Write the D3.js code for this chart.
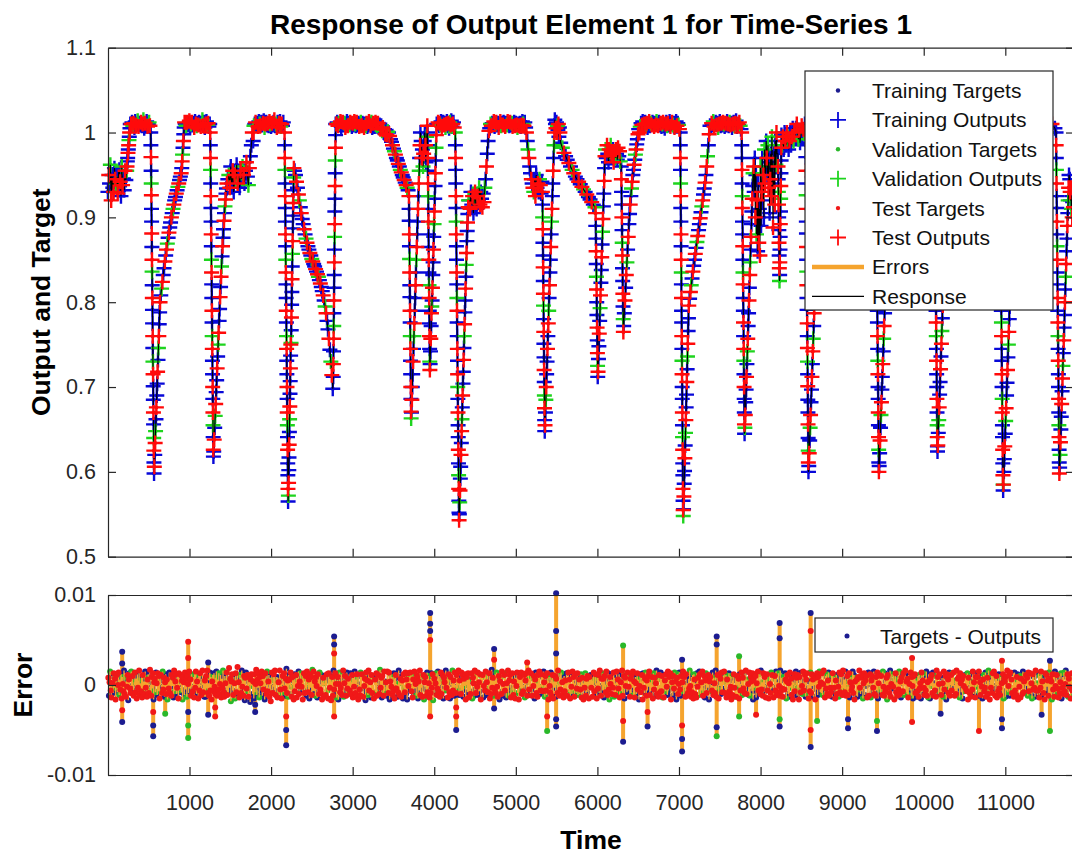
<!DOCTYPE html>
<html>
<head>
<meta charset="utf-8">
<script src="https://cdn.jsdelivr.net/npm/d3@7"></script>
<style>
  body { margin: 0; background: #fff; overflow: hidden; }
  svg { display: block; font-family: "Liberation Sans", Arial, Helvetica, sans-serif; }
</style>
</head>
<body>
<div id="wrapper"></div>
<script>
// ---- data ----

// time series runs: start time, time step, target values (in thousandths)
const runT0 = [0, 230, 285, 525, 569, 648, 905, 948, 1254, 1297, 1470, 1780, 1800, 2165, 2212, 2288,
  2762, 2800, 3440, 3690, 3721, 3840, 3918, 3950, 4038, 4258, 4308, 4430, 4680, 5130, 5326, 5358,
  5486, 5550, 5978, 6008, 6100, 6292, 6322, 6515, 7015, 7056, 7130, 7390, 7768, 7808, 7915, 8212,
  8264, 8552, 8591, 8750, 9410, 9454, 9610, 10130, 10173, 10320, 10930, 10977, 11140, 11622, 11666, 11790];
const runDt = [10, 4, 10, 1.5, 5, 10, 5, 10, 1.5, 6, 12, 5, 10, 1.5, 2.5, 11.7,
  1.5, 10, 12, 1.5, 5, 7.5, 1.5, 4, 9, 1.5, 4, 10, 10, 10, 1.5, 5,
  6, 20, 2, 5, 9, 2, 8, 10, 1.2, 4, 10, 10, 1.5, 5, 7, 2,
  10, 1.3, 5.5, 36, 1.5, 5.5, 36, 1.5, 5.5, 37, 1.5, 5.5, 36, 1.5, 5, 5];
const runY = [
  [930,950,940,962,920,950,935,930,958,945,940,948,928,952,956,942,925,960,938,946,932,955,944],
  [955,960,966,970,976,980,985,991,995,1000,1005,1010],
  [1010,1012,1008,1011,1006,1013,1009,1010,1014,1007,1011,1009,1012,1008,1010,1015,1005,1011,1009,1013,1007,1010,1012,1008],
  [1000,985,971,955,940,926,910,895,881,865,850,836,820,805,791,775,760,746,730,715,701,685,670,656,640,625,611,598],
  [606,620,634,648,662,676,690,704,718,732,746,760,774,788,800],
  [808,816,824,832,840,848,855,862,869,876,882,888,894,900,905,910,915,920,924,928,932,936,940,944,948,952],
  [958,966,974,982,990,998,1006,1012],
  [1010,1008,1012,1009,1011,1014,1007,1010,1012,1009,1011,1006,1013,1010,1008,1011,1009,1012,1010,1007,1011,1015,1008,1012,1006,1010,1013,1009,1011,1007,1010],
  [1000,985,970,956,940,925,911,895,880,866,850,835,821,805,790,776,760,745,731,715,700,686,670,655,641,626,618],
  [624,638,652,666,680,694,708,722,736,750,764,778,792,806,818,830,842,854,866,876,886,896,905,913,921,928,934,940],
  [945,950,935,960,940,955,930,950,945,962,940,950,935,955,945,960,950,940,955,965,948,938,958,972,985,1000],
  [990,1000,1008],
  [1010,1012,1009,1011,1007,1013,1010,1008,1012,1009,1011,1014,1006,1010,1012,1009,1011,1008,1013,1010,1007,1011,1009,1012,1015,1008,1010,1006,1012,1009,1011,1013,1007,1010,1008,1012],
  [1000,985,970,956,940,925,911,895,880,866,850,835,821,805,790,776,760,745,731,715,700,686,670,655,641,626,610,596,580,565],
  [572,587,602,617,632,647,662,677,692,707,722,737,750,752,767,782,797,812,827,842,857,872,887,902,917,932,947,958],
  [955,950,942,935,927,920,912,905,898,892,886,880,875,870,866,862,858,855,851,848,845,842,839,836,833,830,826,822,818,813,808,802,795,787,778,768,757,744,730,714,698],
  [712,727,742,757,772,787,802,817,832,847,862,877,892,907,922,937,952,967,982,997,1010],
  [1010,1012,1008,1011,1009,1013,1007,1010,1012,1009,1011,1006,1010,1013,1008,1011,1009,1012,1010,1007,1011,1009,1013,1010,1008,1012,1009,1011,1007,1010,1012,1008,
   1011,1009,1006,1010,1008,1011,1007,1009,1013,1010,1008,1012,1006,1011,1009,1007,1012,1010,1008,1011,1006,1009,1004,1008,1002,1006,1000,1004,998,1003,997,1001],
  [1000,996,992,989,985,981,978,974,970,967,963,960,956,953,950,947,944,941,938,935,932],
  [925,910,896,880,866,851,835,820,806,790,776,760,745,731,715,700,686,671,663],
  [670,685,700,715,730,745,760,775,790,805,820,835,850,865,880,895,910,925,940,955,970,985,1000],
  [990,970,980,960,975,990,1000,985,965,995,1008],
  [1000,985,970,955,940,925,910,895,880,865,850,835,820,805,790,775,760,745,730,720],
  [727,742,757,772,787,795,802,817,832,847,862,877,892,907,922,937,952,967,982,997,1010],
  [1010,1012,1008,1011,1009,1013,1007,1010,1012,1009,1011,1006,1010,1013,1008,1011,1005,1012,1009,1014,1007,1010,1012,1006],
  [1000,985,970,956,940,925,911,895,880,866,850,835,821,805,790,776,760,745,731,715,700,686,670,655,641,626,610,596,580,566,552,543],
  [550,564,578,592,606,620,634,648,662,676,690,704,718,732,746,760,774,788,802,816,830,844,858,872,884,894,904,912,920],
  [920,910,930,915,925,905,920,930,915,910,925,920,935,915,930,922,912,928,918,935,945,960,975,990,1002],
  [1005,1010,1008,1011,1009,1013,1007,1010,1012,1009,1011,1006,1010,1013,1008,1011,1009,1012,1010,1007,1011,1009,1013,1010,1008,1012,1009,1011,1007,1010,1012,1008,
   1011,1009,1006,1010,1008,1011,1007,1009,1013,1010,1008,1012,1006],
  [1000,990,980,970,960,952,945,940,935,930,945,925,950,935,940,930,945,938,928,942],
  [930,915,900,886,870,855,841,825,810,796,780,765,751,735,720,706,690,675,661,648],
  [655,670,685,700,715,730,745,760,775,790,805,820,835,850,865,880,895,910,925,940,955,970,985,1000,1015],
  [1010,1005,1012,1000,1008,1003,1010,995,1006,1000],
  [988,982,976,972,968,964,960,956,952,948,945,942,939,936,933,930,927,924,921,918,915,912],
  [905,890,875,860,845,830,815,800,785,770,755,740,725,712],
  [718,733,748,763,778,793,808,823,838,853,868,883,898,913,928,943,958,972],
  [980,970,985,975,965,980,970,985,975,970,980,965,975,970,980,975,968,982,972,978,966],
  [960,945,930,915,900,885,870,855,840,825,810,795,780,765],
  [772,787,802,817,832,847,862,877,892,904,915,925,934,942,950,956,962,968,974,980,986,992,998,1004],
  [1000,1007,1011,1009,1013,1008,1010,1012,1009,1011,1006,1010,1013,1008,1011,1009,1012,1010,1007,1011,1009,1013,1010,1008,1012,1009,1011,1007,1010,1012,1008,1005,
   1010,1012,1008,1011,1009,1013,1007,1010,1012,1009,1011,1006,1010,1013,1008,1011,1009,1004],
  [1000,985,970,956,940,925,911,895,880,866,850,835,821,805,790,776,760,745,731,715,700,686,670,655,641,626,610,596,580,566,555,548],
  [556,571,586,601,616,631,646,661,676,691,706,721,736,751,766,781,796],
  [804,812,820,828,836,843,850,857,864,871,878,885,892,899,906,913,920,927,934,941,950,960,972,985,998,1008],
  [1008,1011,1009,1013,1007,1010,1012,1009,1011,1006,1010,1013,1008,1011,1009,1012,1010,1007,1011,1009,1013,1010,1008,1012,1009,1011,1006,1010,1012,1008,1011,1014,1007,1010,1009,1012,1008,1004],
  [1000,985,970,956,940,925,911,895,880,866,850,835,821,805,790,776,760,745,731,715,700,686,670,656,645],
  [652,667,682,697,712,727,742,757,772,787,802,817,832,847,862,877,892,907,922,937,952],
  [960,930,970,900,950,880,920,860,940,870,910,855,960,890,930,970,920,950,900,980,940,960,990,970,950,985,935,965,905,945,975,925,995,958,888,940,978,915,990,962,1000,975],
  [975,960,945,930,915,900,885,870,855,840,825,832,847,862,877,892,907,922,937,952,967,982,997],
  [985,995,980,1000,990,985,1000,995,980,990,1000,985,995,1005,990,1000,995,1005,1010,1000,992,1003,988,998,1008,996,1004,999,1010],
  [1000,985,971,955,940,926,910,895,881,865,850,836,820,805,791,775,760,746,730,715,701,685,670,656,640,625,611,600],
  [607,622,637,652,667,682,697,712,727,742,757,772,787,802,817,832,847,862,877,892,907,922,937,952,967,982,997],
  [990,970,950,930,960,980,1000,1010,1000,980,960,940,920,950,970,990,1005,1010],
  [1000,985,970,956,940,925,911,895,880,866,850,835,821,805,790,776,760,745,731,715,700,686,670,655,641,626,611,600],
  [607,622,637,652,667,682,697,712,727,742,757,772,787,802,817,832,847,862,877,892,907,922,937,952,967,982,997],
  [1000,990,970,950,930,950,970,990,1010,1000,980,960,980,1000],
  [1000,985,970,956,940,925,911,895,880,866,850,835,821,805,790,776,760,745,731,715,700,686,670,655,641,630,624],
  [631,646,661,676,691,706,721,736,751,766,781,796,811,826,841,856,871,886,901,916,931,946,961,976,991],
  [990,970,960,980,1000,1010,1005,990,970,950,960,980,1000,1010,1000,1005],
  [1000,985,970,956,940,925,911,895,880,866,850,835,821,805,790,776,760,745,731,715,700,686,670,655,641,626,610,596,585,578],
  [585,600,615,630,645,660,675,690,705,720,735,750,765,780,795,810,825,840,855,870,885,900,915,930,945,960,975,990],
  [990,1000,1010,1005,990,970,960,980,1000,1010,1000,1005,1010,1005],
  [1000,985,970,956,940,925,911,895,880,866,850,835,821,805,790,776,760,745,731,715,700,686,670,655,641,626,611,598],
  [605,620,635,650,665,680,695,710,725,740,755,770,785,800,815,830,845,860,875,890,905,920,935,950],
  [945,930,920,935,910,925,900,918,905,912]
];

// errors (targets - outputs), units of 1e-4, evenly spaced in time
const errT0 = 5;
const errDt = 7.4;
const errVals = [
  8,-12,3,15,-6,-14,10,2,-9,13,-3,7,-16,5,11,-8,0,14,-11,6,
  -5,12,-15,9,1,-7,16,-10,4,-13,8,-2,11,-17,6,13,-4,-9,15,-1,
  10,-6,-12,3,14,-8,7,-15,12,-3,5,16,-11,2,-7,9,-14,11,-5,4,
  -10,15,-3,8,-13,6,12,-9,1,17,-6,-12,9,-4,13,-16,3,7,-8,14,
  2,-11,13,-7,10,-15,5,11,-2,-9,15,-5,8,-13,3,12,-10,6,-16,9,
  -4,14,-9,6,-12,11,-1,8,-14,16,-7,4,12,-10,-3,10,-15,13,-6,1,
  11,-8,5,-16,9,3,-11,14,-5,7,-13,10,1,-9,15,-4,6,-12,12,-2,
  -7,9,-14,12,-3,15,-10,4,8,-15,11,-6,13,-1,-11,7,16,-8,3,-13,
  5,-13,10,-4,16,-9,2,-12,14,-6,9,-16,4,11,-7,13,-2,-10,8,15,
  -12,6,-5,13,-10,1,11,-14,7,-3,16,-8,-13,10,2,-6,14,-11,5,-9,
  19,-3,7,-18,4,12,-6,-11,9,2,-15,13,-8,6,20,-10,3,-14,11,-5,
  -9,16,-2,5,-12,10,-17,8,14,-4,-7,11,-13,3,9,-19,6,12,-1,-10,
  4,-15,12,-8,1,17,-11,6,-3,13,-14,9,2,-6,15,-12,10,-5,7,-16,
  13,-1,-10,15,-7,4,11,-13,8,-18,5,14,-9,-2,12,-6,16,-11,3,9,
  -14,8,3,-11,16,-5,9,-15,2,10,-8,13,-4,-12,7,18,-9,5,-13,11,
  6,-10,14,-2,-13,9,5,-16,12,-7,3,11,-14,8,-1,15,-10,4,13,-6,
  -2,11,-16,7,13,-9,-4,10,-12,15,1,-8,6,-15,12,-3,9,-11,17,-7,
  15,-7,4,-12,9,-1,-14,12,6,-10,14,-5,-9,11,-16,3,8,-13,2,10,
  -11,5,12,-6,-15,13,7,-3,10,-17,4,9,-12,16,-5,-8,13,1,-14,6,
  9,-16,1,14,-8,-3,12,-11,5,16,-13,2,10,-7,-12,14,-4,7,-10,12,
  -6,13,-10,3,11,-14,8,-2,15,-9,6,-13,12,1,-16,10,-5,-11,14,-3,
  12,-4,-13,10,-1,7,-17,14,-8,5,-11,16,-6,9,3,-14,11,-9,6,-12,
  -15,9,6,-8,13,-12,2,11,-5,-10,17,-3,8,-14,10,-1,-12,15,-7,4,
  3,-12,15,-5,-9,14,-16,4,12,-2,9,-11,-6,13,-15,7,11,-4,1,-13,
  -8,16,-11,2,7,-13,10,5,-15,12,-3,-8,14,-10,6,-16,13,-1,9,-5,
  14,-2,-7,12,-14,6,-9,15,-4,1,-12,11,8,-15,4,-6,16,-11,10,-3,
  -13,7,11,-16,3,9,-5,-12,14,-8,10,2,-14,7,-9,13,-3,12,-17,5,
  7,-9,2,13,-11,-4,15,-7,10,-13,4,14,-10,-1,11,-15,8,3,-6,16,
  -3,10,-14,6,12,-8,-15,9,1,-11,16,-6,5,-12,14,-2,-9,11,-4,8,
  16,-11,5,-3,-10,14,-6,11,-13,7,-1,12,-16,4,9,-8,13,-14,6,-7,
  -10,4,13,-15,8,2,-12,16,-5,-9,11,-2,14,-11,3,-7,12,-16,10,1,
  11,-14,-1,9,-6,15,-11,3,12,-8,-4,13,-15,6,-10,17,-3,8,-12,5,
  -5,12,-9,14,-2,-13,7,10,-16,4,8,-10,15,-7,1,-12,11,-6,13,-14,
  2,-8,16,-12,5,11,-3,-14,9,13,-6,-11,4,12,-15,8,-1,14,-9,7,
  -16,6,9,-4,14,-10,12,-7,-2,11,-14,5,13,-8,-12,3,16,-5,7,-11,
  13,-5,-12,8,-1,10,-15,6,14,-9,2,-13,11,-4,15,-10,-6,12,-2,9,
  -7,15,3,-13,10,-6,-11,13,5,-16,9,-1,-8,14,-12,6,11,-15,4,-3,
  10,-13,7,1,-9,16,-4,-12,12,-5,14,-11,3,8,-14,10,-7,5,-10,13,
  -12,3,14,-8,6,-15,11,-2,-10,15,-6,9,-13,2,12,-9,-4,13,-11,7,
  6,-10,-5,12,-14,8,2,-16,11,-3,13,-12,7,-8,10,4,-15,9,-2,11,
  -3,9,-13,5,14,-7,-10,12,2,-15,8,-4,11,-9,16,-1,-12,7,13,-6,
  7,-14,10,-2,-8,15,4,-11,13,-5,-16,9,1,12,-10,6,-3,14,-13,8,
  -11,2,15,-9,6,-4,12,-14,9,3,-7,16,-12,5,10,-15,8,-1,11,-8,
  14,-6,-2,10,-13,7,-9,11,-3,15,-11,4,-14,9,2,-10,13,-5,6,-16,
  -1,12,-8,4,11,-16,13,-3,-9,7,14,-12,5,-6,10,-2,15,-11,3,-7,
  9,-3,-15,13,-5,8,-12,2,16,-10,6,-13,11,-4,-8,14,-7,10,-14,4,
  -14,11,5,-7,12,-2,-11,15,-6,9,-1,13,-16,7,3,-12,10,-4,14,-9,
  4,-16,8,12,-10,1,14,-5,-12,10,-7,3,15,-11,9,-3,-13,12,-6,2,
  -9,7,-4,16,-1,-13,9,-8,11,-15,12,6,-10,2,-14,13,-2,8,-11,15,
  12,-10,3,-6,15,-12,-1,10,-14,5,13,-9,7,-3,11,-16,4,9,-7,-2,
  -6,14,-11,8,2,-9,16,-13,4,11,-5,-15,12,-1,7,-10,14,-8,3,10,
  15,-4,-9,11,-14,6,3,-12,13,-7,10,-2,-16,9,-11,5,12,-3,-13,8,
  -13,5,10,-2,7,-15,12,-6,1,14,-11,8,-4,13,-9,-5,16,-10,6,-1,
  1,-11,14,-12,9,4,-7,13,-16,6,-3,11,10,-14,2,-8,15,-6,12,-10,
  -10,16,-5,3,-12,13,-8,9,-2,-14,7,12,-6,4,-15,11,1,-9,14,-4,
  11,-2,-14,7,10,-6,15,-11,3,-9,13,-1,-12,16,-7,8,-4,-13,9,5,
  -5,13,6,-15,4,11,-10,2,-13,14,-3,7,-11,10,-16,3,12,-7,-1,15,
  8,-12,11,-3,-16,9,5,-8,14,-1,-10,15,-6,2,11,-13,6,13,-9,-4,
  -15,4,-7,14,-9,12,-1,6,-13,10,3,-16,8,-5,13,-11,9,-2,15,-8,
  3,-9,13,-11,1,16,-6,-14,10,-4,12,-10,5,14,-12,7,-3,-8,11,-13,
  13,-7,-3,9,-15,5,11,-10,7,-2,-13,14,-8,3,12,-5,-11,16,-4,6,
  -8,15,-12,1,10,-11,6,13,-14,3,9,-6,-2,15,-9,11,-16,4,8,-12,
  6,-13,9,-5,16,-3,-10,8,-7,12,-15,2,13,-11,5,-1,10,-14,7,14,
  -12,1,12,-14,5,10,-8,-3,15,-10,6,-12,9,-6,14,-15,2,11,-5,-9,
  10,-5,-11,15,-2,-12,13,-7,4,8,-16,11,-3,7,-9,16,-13,1,12,-4,
  -2,12,-16,6,13,-8,3,-12,11,-5,15,-10,4,-14,8,2,-7,13,-11,9,
  16,-8,4,-10,7,-14,11,1,-6,14,-12,9,-1,-15,10,-4,12,-9,5,-13,
  -7,10,-13,11,-4,2,-15,14,-8,5,13,-3,-11,8,-6,15,-12,3,-14,12,
  5,-15,7,-1,11,-9,14,-12,2,-6,10,-13,16,-4,9,-10,1,12,-8,-3,
  -11,8,2,-13,15,-5,-7,10,-16,12,-2,6,-9,14,-12,4,11,-6,13,-1,
  14,-3,-12,5,-10,16,-11,7,-4,9,-14,13,2,-8,6,-15,10,-1,-7,11,
  -4,11,-7,13,-16,8,1,-9,12,-13,4,-5,15,-10,3,13,-14,9,-2,7,
  9,-12,15,-8,3,-11,10,-2,-15,6,11,-7,-3,14,-13,1,8,-10,16,-6,
  -16,6,-3,11,-9,13,-5,15,-1,-12,8,10,-14,5,-7,12,-4,-11,9,3,
  2,-10,12,-15,7,4,-13,9,-6,16,-8,-1,11,-12,14,-3,6,-9,-5,13,
  -13,14,-6,3,-11,9,12,-16,5,-2,10,-14,7,1,-10,15,-8,4,11,-7,
  11,-1,8,-12,14,-7,-4,13,-10,2,-15,12,-5,9,-3,-13,16,-6,2,-11,
  -6,13,-14,10,-3,15,-12,4,8,-9,1,-16,13,-7,11,-2,5,-12,14,-10,
  7,-11,4,-16,12,-5,9,-13,15,-1,-8,11,-4,6,-14,10,-9,3,13,-15,
  -3,9,-10,14,-7,1,16,-11,-5,12,-13,7,-2,10,-15,8,13,-6,-12,4
];

// larger error spikes: time, error (1e-4), set
const spikeT = [175,175,175,175,555,555,555,702,984,984,984,984,984,1229,1229,1315,1315,1805,1805,
  2185,2185,2185,2773,2773,2773,2773,3950,3950,3950,3950,3950,4269,4269,4269,4734,4734,4734,5139,
  5384,5384,5494,5494,5494,5494,5494,6315,6315,6315,6615,6615,7038,7038,7038,7038,7462,7462,7462,7462,
  7737,7737,7945,8234,8234,8234,8234,8614,8614,8614,8614,8693,9072,9072,9427,9427,9857,9857,10207,
  10677,10959,10959,10959,11445,11547,11547];
const spikeE = [37,24,-41,-28,-57,-45,-30,-32,48,30,-59,-45,-30,-33,25,-35,-25,-30,-22,
  -67,-50,-35,54,45,35,-35,80,68,60,50,-35,-50,-35,-25,40,28,-26,25,
  -51,-35,102,60,35,-46,-38,44,-63,-40,-46,-30,-74,-60,-45,28,54,45,-57,-47,
  32,-35,-33,69,52,-46,-38,80,60,-69,-50,-40,-48,-38,-51,-40,30,-41,-32,
  -51,27,-48,-38,-33,-51,27];
const spikeSet = "TTTRTTRVRRVVTTTRRTTTTRTTRRTTTRRTRRTRTRVRTTTTTVTRTRTTRTTTVTVVRTTTVTRTRVTTTVRRTRRTTTVT";

// training / validation / test order of the points
const splitPattern = "TRTVRTTRTRVTRTTRTVRT";
const errSplitPattern = "RTRVRRTRTRVRRTRTRRVT";

const timeDomain = [1, 11842];
const xTicks = [1000, 2000, 3000, 4000, 5000, 6000, 7000, 8000, 9000, 10000, 11000];
const yTicksTop = [0.5, 0.6, 0.7, 0.8, 0.9, 1, 1.1];
const yTicksErr = [-0.01, 0, 0.01];
const legendLabels = ["Training Targets", "Training Outputs", "Validation Targets", "Validation Outputs",
  "Test Targets", "Test Outputs", "Errors", "Response"];

const createChart = () => {
  const outColor = { T: "#0808d8", V: "#1ed41e", R: "#ff0a0a" };
  const dotColor = { T: "#1c1c90", V: "#2ab82a", R: "#f01818" };
  const errColor = "#f5a42e";
  const axisColor = "#262626";

  let dimensions = {
    width: 1072,
    height: 856,
    left: 108,
    right: 1074,
    top1: 47.7,
    bottom1: 556.7,
    top2: 595,
    bottom2: 775
  };

  const svg = d3.select("#wrapper")
    .append("svg")
    .attr("width", dimensions.width)
    .attr("height", dimensions.height);

  const xScale = d3.scaleLinear().domain(timeDomain).range([dimensions.left, dimensions.right]);
  const yScale = d3.scaleLinear().domain([0.5, 1.1]).range([dimensions.bottom1, dimensions.top1]);
  const eScale = d3.scaleLinear().domain([-0.01, 0.01]).range([dimensions.bottom2, dimensions.top2]);

  // points of the response panel
  const points = [];
  let k = 0;
  runY.forEach((vals, r) => vals.forEach((v, i) => {
    points.push({ t: runT0[r] + i * runDt[r], v: v / 1000, set: splitPattern[k % splitPattern.length] });
    k++;
  }));

  const top = svg.append("g");
  const plusPath = (px, py, s) => `M${px - s},${py}h${2 * s}M${px},${py - s}v${2 * s}`;

  const drawSet = (s) => {
    const sub = points.filter((d) => d.set === s);
    top.append("g").selectAll("circle")
      .data(sub)
      .join("circle")
      .attr("cx", (d) => xScale(d.t))
      .attr("cy", (d) => yScale(d.v))
      .attr("r", 2)
      .attr("fill", dotColor[s]);
    top.append("path")
      .attr("d", sub.map((d) => plusPath(xScale(d.t), yScale(d.v), 7.5)).join(""))
      .attr("fill", "none")
      .attr("stroke", outColor[s])
      .attr("stroke-width", 2.4);
  };

  drawSet("T");
  drawSet("V");

  // response line
  const lineGenerator = d3.line()
    .x((d) => xScale(d.t))
    .y((d) => yScale(d.v));
  top.append("path")
    .attr("d", lineGenerator(points))
    .attr("fill", "none")
    .attr("stroke", "#000")
    .attr("stroke-width", 1.1);

  drawSet("R");

  // error panel
  const errPoints = errVals.map((e, i) => ({
    t: errT0 + i * errDt, e: e * 1e-4, set: errSplitPattern[i % errSplitPattern.length]
  }));
  const spikePoints = spikeT.map((t, i) => ({ t, e: spikeE[i] * 1e-4, set: spikeSet[i] }));

  const bottom = svg.append("g");
  bottom.append("path")
    .attr("d", spikePoints.map((d) => `M${xScale(d.t)},${eScale(0)}V${eScale(d.e)}`).join(""))
    .attr("stroke", errColor)
    .attr("stroke-width", 4);

  const drawErrDots = (data, s) => {
    bottom.append("g").selectAll("circle")
      .data(data.filter((d) => d.set === s))
      .join("circle")
      .attr("cx", (d) => xScale(d.t))
      .attr("cy", (d) => eScale(d.e))
      .attr("r", 3)
      .attr("fill", dotColor[s]);
  };
  drawErrDots(errPoints, "T");
  drawErrDots(errPoints, "V");
  bottom.append("path")
    .attr("d", errPoints.map((d) => `M${xScale(d.t)},${eScale(0)}V${eScale(d.e)}`).join(""))
    .attr("stroke", errColor)
    .attr("stroke-width", 1.4);
  drawErrDots(errPoints, "R");
  ["T", "V", "R"].forEach((s) => drawErrDots(spikePoints, s));

  // axes
  const fmt = (d) => String(+d.toFixed(2));
  const styleAxis = (g) => {
    g.attr("font-family", null).attr("font-size", null);
    g.selectAll("path.domain").attr("stroke", axisColor).attr("stroke-width", 1.2);
    g.selectAll(".tick line").attr("stroke", axisColor).attr("stroke-width", 1.2);
    g.selectAll(".tick text").attr("fill", axisColor).style("font-size", "21.5px");
  };

  const addFrame = (yScl, y0, y1, ticks, showX) => {
    svg.append("g")
      .attr("transform", `translate(0,${y1})`)
      .call(d3.axisBottom(xScale).tickValues(xTicks).tickSize(-8).tickSizeOuter(0)
        .tickPadding(20).tickFormat(showX ? (d) => d : ""))
      .call(styleAxis);
    svg.append("g")
      .attr("transform", `translate(0,${y0})`)
      .call(d3.axisTop(xScale).tickValues(xTicks).tickSize(-8).tickSizeOuter(0).tickFormat(""))
      .call(styleAxis);
    svg.append("g")
      .attr("transform", `translate(${dimensions.left},0)`)
      .call(d3.axisLeft(yScl).tickValues(ticks).tickSize(-8).tickSizeOuter(0).tickPadding(12).tickFormat(fmt))
      .call(styleAxis);
    svg.append("g")
      .attr("transform", `translate(${dimensions.right},0)`)
      .call(d3.axisRight(yScl).tickValues(ticks).tickSize(-8).tickSizeOuter(0).tickFormat(""))
      .call(styleAxis);
  };
  addFrame(yScale, dimensions.top1, dimensions.bottom1, yTicksTop, false);
  addFrame(eScale, dimensions.top2, dimensions.bottom2, yTicksErr, true);

  // title and axis labels
  svg.append("text")
    .attr("x", 591).attr("y", 34)
    .attr("text-anchor", "middle")
    .style("font-size", "28px").style("font-weight", "bold")
    .attr("fill", "#000")
    .text("Response of Output Element 1 for Time-Series 1");

  svg.append("text")
    .attr("transform", `translate(41,${(dimensions.top1 + dimensions.bottom1) / 2}) rotate(-90)`)
    .attr("text-anchor", "middle").attr("dominant-baseline", "central")
    .style("font-size", "26.5px").style("font-weight", "bold")
    .attr("fill", "#000")
    .text("Output and Target");

  svg.append("text")
    .attr("transform", `translate(23,${(dimensions.top2 + dimensions.bottom2) / 2}) rotate(-90)`)
    .attr("text-anchor", "middle").attr("dominant-baseline", "central")
    .style("font-size", "26.5px").style("font-weight", "bold")
    .attr("fill", "#000")
    .text("Error");

  svg.append("text")
    .attr("x", 591).attr("y", 849)
    .attr("text-anchor", "middle")
    .style("font-size", "26.5px").style("font-weight", "bold")
    .attr("fill", "#000")
    .text("Time");

  // legend of the response panel
  const legend = svg.append("g");
  legend.append("rect")
    .attr("x", 805).attr("y", 71).attr("width", 248).attr("height", 239)
    .attr("fill", "#fff").attr("stroke", axisColor).attr("stroke-width", 1.2);
  const legendSets = ["T", "T", "V", "V", "R", "R"];
  legendLabels.forEach((label, i) => {
    const ly = 90.5 + i * 29.4;
    if (i < 6) {
      const s = legendSets[i];
      if (i % 2 === 0) {
        legend.append("circle").attr("cx", 838).attr("cy", ly).attr("r", 2.2).attr("fill", dotColor[s]);
      } else {
        legend.append("path").attr("d", plusPath(838, ly, 8))
          .attr("stroke", outColor[s]).attr("stroke-width", 1.8);
      }
    } else if (i === 6) {
      legend.append("line").attr("x1", 812).attr("x2", 864).attr("y1", ly).attr("y2", ly)
        .attr("stroke", errColor).attr("stroke-width", 4.5);
    } else {
      legend.append("line").attr("x1", 812).attr("x2", 864).attr("y1", ly).attr("y2", ly)
        .attr("stroke", "#000").attr("stroke-width", 1.3);
    }
    legend.append("text")
      .attr("x", 872).attr("y", ly)
      .attr("dominant-baseline", "central")
      .style("font-size", "21px")
      .attr("fill", "#111")
      .text(label);
  });

  // legend of the error panel
  const legend2 = svg.append("g");
  legend2.append("rect")
    .attr("x", 815).attr("y", 618).attr("width", 238).attr("height", 34)
    .attr("fill", "#fff").attr("stroke", axisColor).attr("stroke-width", 1.2);
  legend2.append("circle").attr("cx", 847).attr("cy", 636).attr("r", 2.5).attr("fill", dotColor.T);
  legend2.append("text")
    .attr("x", 880).attr("y", 636)
    .attr("dominant-baseline", "central")
    .style("font-size", "21px")
    .attr("fill", "#111")
    .text("Targets - Outputs");
};

createChart();
</script>
</body>
</html>
